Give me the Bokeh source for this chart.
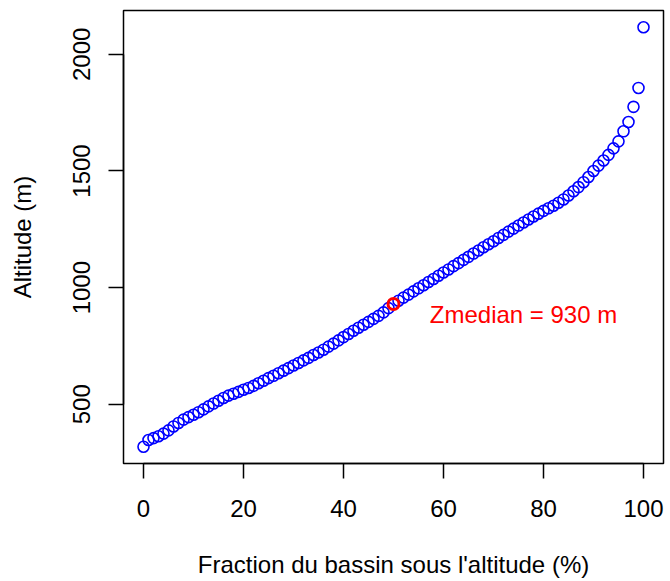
from bokeh.plotting import figure
from bokeh.models import Range1d, FixedTicker, Label
from bokeh.embed import file_html
from bokeh.resources import INLINE

# ---- data ----
fraction = list(range(101))
altitude = [
    318, 347, 355, 363, 374, 388, 405, 420, 434, 445,
    455, 466, 478, 491, 503, 515, 527, 537, 545, 553,
    562, 570, 579, 590, 601, 612, 622, 633, 644, 655,
    666, 677, 688, 699, 711, 722, 734, 747, 760, 774,
    788, 801, 815, 828, 841, 853, 866, 879, 894, 912,
    930, 944, 957, 970, 984, 997, 1010, 1024, 1037, 1051,
    1065, 1078, 1092, 1105, 1119, 1132, 1146, 1159, 1173, 1186,
    1199, 1213, 1226, 1240, 1253, 1266, 1279, 1292, 1305, 1317,
    1329, 1340, 1351, 1364, 1378, 1395, 1413, 1431, 1452, 1474,
    1500, 1523, 1545, 1569, 1597, 1627, 1670, 1710, 1775, 1856,
    2116,
]
median_fraction = [50]
median_altitude = [930]
x_ticks = [0, 20, 40, 60, 80, 100]
y_ticks = [500, 1000, 1500, 2000]
x_title = "Fraction du bassin sous l'altitude (%)"
y_title = "Altitude (m)"
annotation_text = "Zmedian = 930 m"

FONT = "Liberation Sans"
FS = "24px"

# R-style 4% padding of the ranges
xlo, xhi = min(fraction), max(fraction)
ylo, yhi = min(altitude), max(altitude)
xp = 0.04 * (xhi - xlo)
yp = 0.04 * (yhi - ylo)

p = figure(
    width=670, height=581,
    x_range=Range1d(xlo - xp, xhi + xp),
    y_range=Range1d(ylo - yp, yhi + yp),
    output_backend="svg", toolbar_location=None,
    min_border_left=123, min_border_right=7,
    min_border_top=10, min_border_bottom=118,
)
p.background_fill_color = "white"
p.border_fill_color = "white"
p.outline_line_color = "black"
p.outline_line_width = 1.5
p.xgrid.visible = False
p.ygrid.visible = False

for ax, ticks in ((p.xaxis[0], x_ticks), (p.yaxis[0], y_ticks)):
    ax.ticker = FixedTicker(ticks=ticks)
    ax.bounds = (min(ticks), max(ticks))
    ax.axis_line_color = "black"
    ax.axis_line_width = 1.5
    ax.major_tick_line_color = "black"
    ax.major_tick_line_width = 1.5
    ax.major_tick_in = 0
    ax.major_tick_out = 15
    ax.minor_tick_line_color = None
    ax.major_label_text_font = FONT
    ax.major_label_text_font_size = FS
    ax.major_label_text_color = "black"
    ax.axis_label_text_font = FONT
    ax.axis_label_text_font_size = FS
    ax.axis_label_text_font_style = "normal"
    ax.axis_label_text_color = "black"

p.xaxis.axis_label = x_title
p.xaxis.major_label_standoff = 21
p.xaxis.axis_label_standoff = 31

p.yaxis.axis_label = y_title
p.yaxis.major_label_orientation = "vertical"
p.yaxis.major_label_standoff = 18
p.yaxis.axis_label_standoff = 35

p.scatter(fraction, altitude, marker="circle", size=11,
          fill_color=None, line_color="#0000FF", line_width=1.6)
p.scatter(median_fraction, median_altitude, marker="circle", size=11,
          fill_color=None, line_color="#FF0000", line_width=3)

p.add_layout(Label(x=76, y=885, text=annotation_text,
                   text_align="center", text_baseline="middle",
                   text_color="#FF0000", text_font=FONT,
                   text_font_size=FS))

open("out.html", "w").write(file_html(p, INLINE))
